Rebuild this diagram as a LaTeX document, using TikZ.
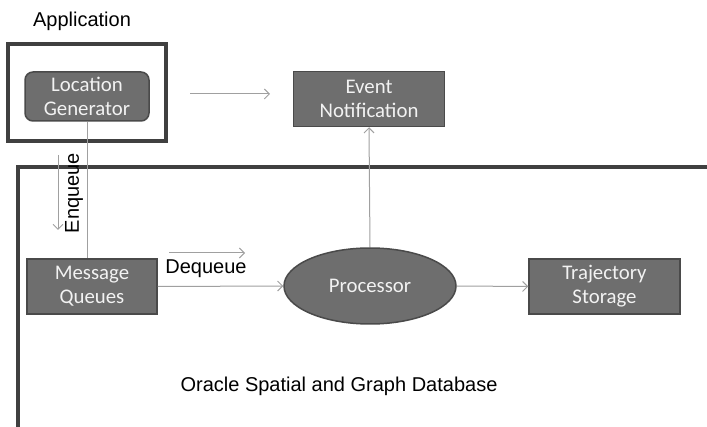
\documentclass[tikz,border=0pt]{standalone}
\usepackage{fontspec}
\setmainfont{Liberation Sans}
\newfontfamily\boxfont{Carlito}
\usetikzlibrary{arrows.meta,shapes.geometric}
\definecolor{boxfill}{HTML}{6E6E6E}
\definecolor{boxline}{HTML}{4A4A4A}
\definecolor{frameline}{HTML}{404040}
\definecolor{conn}{HTML}{A0A0A0}
\definecolor{boxtext}{HTML}{F2F2F2}
\tikzset{
  x=1pt, y=-1pt,
  procbox/.style={draw=boxline, line width=1.5pt, fill=boxfill, text=boxtext,
    font=\boxfont\fontsize{20.8}{24}\selectfont, align=center, inner sep=0pt,
    minimum width=151pt, minimum height=55pt},
  roundbox/.style={procbox, rounded corners=8pt, minimum width=124pt, minimum height=49pt},
  procell/.style={procbox, ellipse, minimum width=172pt, minimum height=76pt},
  conline/.style={draw=conn, line width=1pt},
  conarrow/.style={conline, -{Straight Barb[length=5pt,width=10pt,line width=1pt]}},
  frame/.style={draw=frameline, line width=4pt},
  lbl/.style={font=\fontsize{20}{24}\selectfont, inner sep=0pt}
}
\begin{document}
\begin{tikzpicture}
\useasboundingbox (0,0) rectangle (707,427);
% frames
\draw[frame] (8,44) rectangle (166,141);
\draw[frame] (18,429) -- (18,167) -- (709,167);
% nodes
\node[roundbox] (lg) at (87,96.5) {Location\\Generator};
\node[procbox] (en) at (369,99) {Event\\Notification};
\node[procbox, minimum width=130pt] (mq) at (92,286.5) {Message\\Queues};
\node[procell] (pr) at (370,286) {Processor};
\node[procbox] (ts) at (604.5,286.5) {Trajectory\\Storage};
% labels
\node[lbl] (app) at (82,21) {Application};
\node[lbl, rotate=90] (enq) at (74,193) {Enqueue};
\node[lbl] (deq) at (206,269) {Dequeue};
\node[lbl] (db) at (339,386) {Oracle Spatial and Graph Database};
% free-end coordinates
\coordinate (a1) at (190,94);
\coordinate (a2) at (270,94);
\coordinate (e1) at (58,155);
\coordinate (e2) at (58,230);
\coordinate (d1) at (169,253);
\coordinate (d2) at (245,253);
% connectors
\draw[conline] (lg.south) -- (lg.south |- mq.north);
\draw[conarrow] (a1) -- (a2);
\draw[conarrow] (e1) -- (e2);
\draw[conarrow] (d1) -- (d2);
\draw[conarrow] (mq.east) -- (pr.west);
\draw[conarrow] (pr.east) -- (ts.west);
\draw[conarrow] (pr.north) -- (en.south);
\end{tikzpicture}
\end{document}
